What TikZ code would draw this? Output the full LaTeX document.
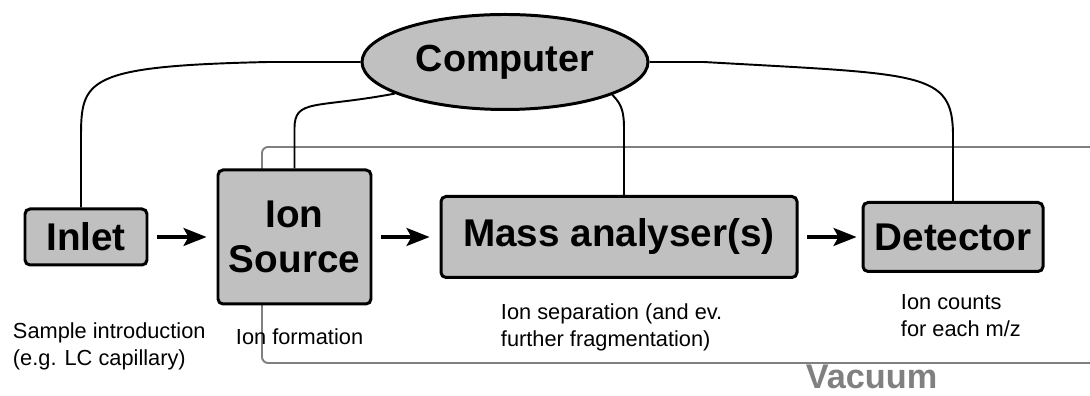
\documentclass[tikz,border=0pt]{standalone}
\usepackage{fontspec}
\setmainfont{Liberation Sans}
\usepackage{tikz}
\usetikzlibrary{shapes,arrows.meta}
\definecolor{boxgray}{RGB}{192,192,192}
\definecolor{vacgray}{RGB}{128,128,128}

\begin{document}
\begin{tikzpicture}[line width=1.1pt]
	\def \comprow{6.68cm}
	\def \boxrow{3.18cm}

	\tikzstyle{box-node}=[rectangle,rounded corners=0.1cm,draw=black,fill=boxgray,line width=1.7pt,inner sep=0pt,align=center,font=\fontsize{22}{25.5}\selectfont\bfseries]
	\tikzstyle{comp-node}=[ellipse,draw=black,fill=boxgray,line width=1.7pt,inner sep=0pt,minimum width=5.72cm,minimum height=1.9cm,font=\fontsize{21.5}{25.5}\selectfont\bfseries]
	\tikzstyle{note}=[anchor=west,align=left,inner sep=0pt,font=\fontsize{12.4}{15.3}\selectfont]
	\tikzstyle{flow}=[-{Stealth[length=0.46cm,width=0.36cm,inset=0.1cm]},line width=1.8pt,shorten <=0.17cm,shorten >=0.2cm]
	\tikzstyle{wire}=[line width=1.1pt]
	\tikzstyle{vac}=[draw=vacgray,line width=1.1pt,rounded corners=0.12cm]

	\useasboundingbox (0,0) rectangle (21.8,7.92);

	% vacuum housing
	\draw[vac] (22.5,4.98) -- (5.24,4.98) -- (5.24,0.66) -- (22.5,0.66);
	\node[text=vacgray,inner sep=0pt,font=\fontsize{19.5}{19.5}\selectfont\bfseries] (vacuum) at (17.43cm,0.39cm) {Vacuum};

	% instrument blocks
	\node[comp-node] (computer) at (10.10cm,\comprow) {Computer};
	\node[box-node,minimum width=2.44cm,minimum height=1.12cm] (inlet) at (1.72cm,\boxrow) {Inlet};
	\node[box-node,minimum width=3.06cm,minimum height=2.68cm] (source) at (5.89cm,\boxrow) {Ion\\Source};
	\node[box-node,minimum width=7.12cm,minimum height=1.62cm] (analyser) at (12.38cm,\boxrow) {Mass analyser(s)};
	\node[box-node,minimum width=3.6cm,minimum height=1.38cm] (detector) at (19.06cm,\boxrow) {Detector};

	% notes
	\node[note] (inlet-note) at (0.24cm,1.0cm) {Sample introduction\\(e.g. LC capillary)};
	\node[note] (source-note) at (4.7cm,1.19cm) {Ion formation};
	\node[note] (analyser-note) at (10.0cm,1.37cm) {Ion separation (and ev.\\further fragmentation)};
	\node[note] (detector-note) at (18.0cm,1.6cm) {Ion counts\\for each m/z};

	% sample flow
	\draw[flow] (inlet) -- (source);
	\draw[flow] (source) -- (analyser);
	\draw[flow,shorten >=0.1cm] (analyser) -- (detector);

	% control lines
	\draw[wire] (computer.west) -- ++(-1.84,0) .. controls +(-3.66,-0.08) and +(0,1.16) .. ([xshift=-0.1cm,yshift=1.4cm]inlet.north) -- ([xshift=-0.1cm]inlet.north);
	\draw[wire] (computer.196) .. controls +(-1.6,-0.3) and +(0,0.6) .. ([yshift=0.8cm]source.north) -- (source.north);
	\draw[wire] (computer.343) .. controls +(0.2,-0.2) and +(0,0.35) .. ([xshift=0.1cm,yshift=1.3cm]analyser.north) -- ([xshift=0.1cm]analyser.north);
	\draw[wire] (computer.east) -- ++(1.08,0) .. controls +(4.4,-0.25) and +(0,1.3) .. ([yshift=1.3cm]detector.north) -- (detector.north);
\end{tikzpicture}
\end{document}
